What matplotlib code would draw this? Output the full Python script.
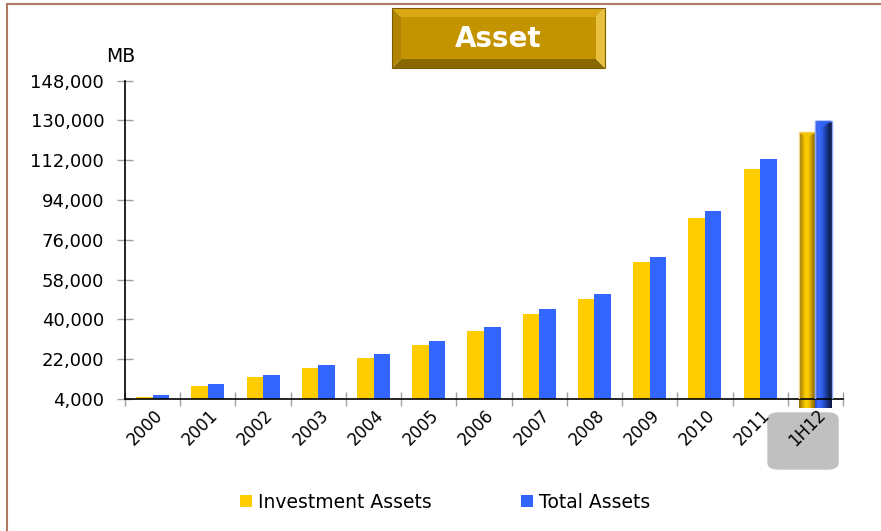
import numpy as np
import matplotlib
matplotlib.use("Agg")
import matplotlib.pyplot as plt
from matplotlib.patches import FancyBboxPatch, Polygon, Rectangle
from matplotlib.lines import Line2D
from matplotlib.colors import LinearSegmentedColormap
from matplotlib.ticker import FuncFormatter
import matplotlib.transforms as mtransforms

categories = ["2000", "2001", "2002", "2003", "2004", "2005", "2006",
              "2007", "2008", "2009", "2010", "2011", "1H12"]
investment_assets = [4900, 9900, 13800, 18000, 22700, 28500, 34600,
                     42300, 49200, 65900, 86000, 108000, 124600]
total_assets = [5800, 10800, 15000, 19400, 24500, 30400, 36700,
                44500, 51600, 68300, 89000, 112500, 129900]
y_ticks = [4000, 22000, 40000, 58000, 76000, 94000, 112000, 130000, 148000]

YELLOW = "#FFCC00"
BLUE = "#3366FF"

plt.rcParams['font.family'] = ['DejaVu Sans']

W, H = 881, 531
fig = plt.figure(figsize=(W / 100, H / 100), dpi=100)

def fx(px):
    return px / W

def fy(py):
    return 1 - py / H

ax = fig.add_axes([fx(125), fy(399), fx(843) - fx(125), fy(80.7) - fy(399)])

x = np.arange(len(categories))
bw = 0.3
n = len(categories)
ax.bar(x[:-1] - bw / 2, investment_assets[:-1], bw, color=YELLOW,
       label="Investment Assets", zorder=2)
ax.bar(x[:-1] + bw / 2, total_assets[:-1], bw, color=BLUE,
       label="Total Assets", zorder=2)

# highlighted 1H12 bars with cylinder-like shading
yc = LinearSegmentedColormap.from_list("yc", ["#8a6a00", "#d0a000", "#ffd200", "#f0c000", "#b08800", "#7a5c00"])
bc = LinearSegmentedColormap.from_list("bc", ["#2a50d0", "#3d6cff", "#3060f0", "#2244b0", "#132a70", "#0a1640"])
for xpos, val, cmap, edge in [(x[-1] - bw / 2, investment_assets[-1], yc, "#f0d890"),
                              (x[-1] + bw / 2, total_assets[-1], bc, "#8fa8ff")]:
    bar = ax.bar(xpos, val, bw, color="none", edgecolor=edge, linewidth=1.0, zorder=3)[0]
    grad = np.linspace(0, 1, 64).reshape(1, -1)
    im = ax.imshow(grad, cmap=cmap, extent=(xpos - bw / 2, xpos + bw / 2, 0, val),
                   aspect="auto", zorder=2.5, origin="lower")
    im.set_clip_path(bar)
    cap = Polygon([[xpos - bw / 2, val], [xpos + bw / 2, val], [xpos, val - 2600]],
                  closed=True, facecolor=cmap(0.35), edgecolor="none", alpha=0.9, zorder=3.5)
    ax.add_patch(cap)

ax.set_xlim(-0.5, n - 0.5)
ax.set_ylim(4000, 148000)
ax.set_yticks(y_ticks)
ax.yaxis.set_major_formatter(FuncFormatter(lambda v, p: f"{int(v):,}"))
ax.tick_params(axis="y", direction="inout", length=11, width=1, color="#a0a0a0",
               labelsize=13, pad=9.5)
ax.set_xticks(x)
ax.set_xticklabels(categories, rotation=45, ha="right", va="top", rotation_mode="anchor")
ax.tick_params(axis="x", which="major", length=0, labelsize=12, pad=5)
ax.set_xticks(np.arange(-0.5, n, 1), minor=True)
ax.tick_params(axis="x", which="minor", direction="inout", length=10, width=1, color="#a0a0a0")
offset = mtransforms.ScaledTranslation(1 / 100, 0, fig.dpi_scale_trans)
for lab in ax.get_xticklabels():
    lab.set_transform(lab.get_transform() + offset)

for s in ["top", "right"]:
    ax.spines[s].set_visible(False)
ax.spines["left"].set_color("black")
ax.spines["bottom"].set_color("black")
ax.spines["left"].set_linewidth(1.2)
ax.spines["bottom"].set_linewidth(1.2)

fig.text(fx(121), fy(57), "MB", fontsize=13.5, ha="center", va="center")

# gray rounded box behind the 1H12 label
gbox = FancyBboxPatch((fx(768), fy(469)), fx(838) - fx(768), fy(413) - fy(469),
                      boxstyle="round,pad=0.0,rounding_size=0.012",
                      transform=fig.transFigure, facecolor="#c0c0c0", edgecolor="#c0c0c0",
                      zorder=-1)
fig.add_artist(gbox)

# title bevel box
L, R, T, B = 392, 605, 8, 68
bev = 9
def P(pts):
    return [[fx(a), fy(b)] for a, b in pts]
shades = [
    (P([(L, T), (R, T), (R - bev, T + bev), (L + bev, T + bev)]), "#d9a812"),
    (P([(L, B), (R, B), (R - bev, B - bev), (L + bev, B - bev)]), "#8a6800"),
    (P([(L, T), (L + bev, T + bev), (L + bev, B - bev), (L, B)]), "#b08400"),
    (P([(R, T), (R - bev, T + bev), (R - bev, B - bev), (R, B)]), "#e8c040"),
    (P([(L + bev, T + bev), (R - bev, T + bev), (R - bev, B - bev), (L + bev, B - bev)]), "#c49400"),
]
for pts, col in shades:
    fig.add_artist(Polygon(pts, closed=True, transform=fig.transFigure,
                           facecolor=col, edgecolor="none"))
fig.add_artist(Rectangle((fx(L), fy(B)), fx(R) - fx(L), fy(T) - fy(B),
                         transform=fig.transFigure, fill=False, edgecolor="#7a5c00", linewidth=0.8))
fig.text(fx((L + R) / 2), fy(39), "Asset", fontsize=20, fontweight="bold",
         color="white", ha="center", va="center")

# outer frame lines (left and top)
fig.add_artist(Line2D([fx(7), fx(7)], [fy(3.5), 0], transform=fig.transFigure,
                      color="#b07a62", linewidth=1.5))
fig.add_artist(Line2D([fx(7), 1], [fy(3.5), fy(3.5)], transform=fig.transFigure,
                      color="#b07a62", linewidth=1.5))

handles = [Rectangle((0, 0), 1, 1, facecolor=YELLOW), Rectangle((0, 0), 1, 1, facecolor=BLUE)]
fig.legend(handles, ["Investment Assets", "Total Assets"], loc="center",
           bbox_to_anchor=(fx(445), fy(502)), ncol=2, frameon=False, fontsize=13.5,
           handlelength=0.65, handleheight=0.65, handletextpad=0.3, columnspacing=4.8)

fig.savefig("out.png", dpi=100)
